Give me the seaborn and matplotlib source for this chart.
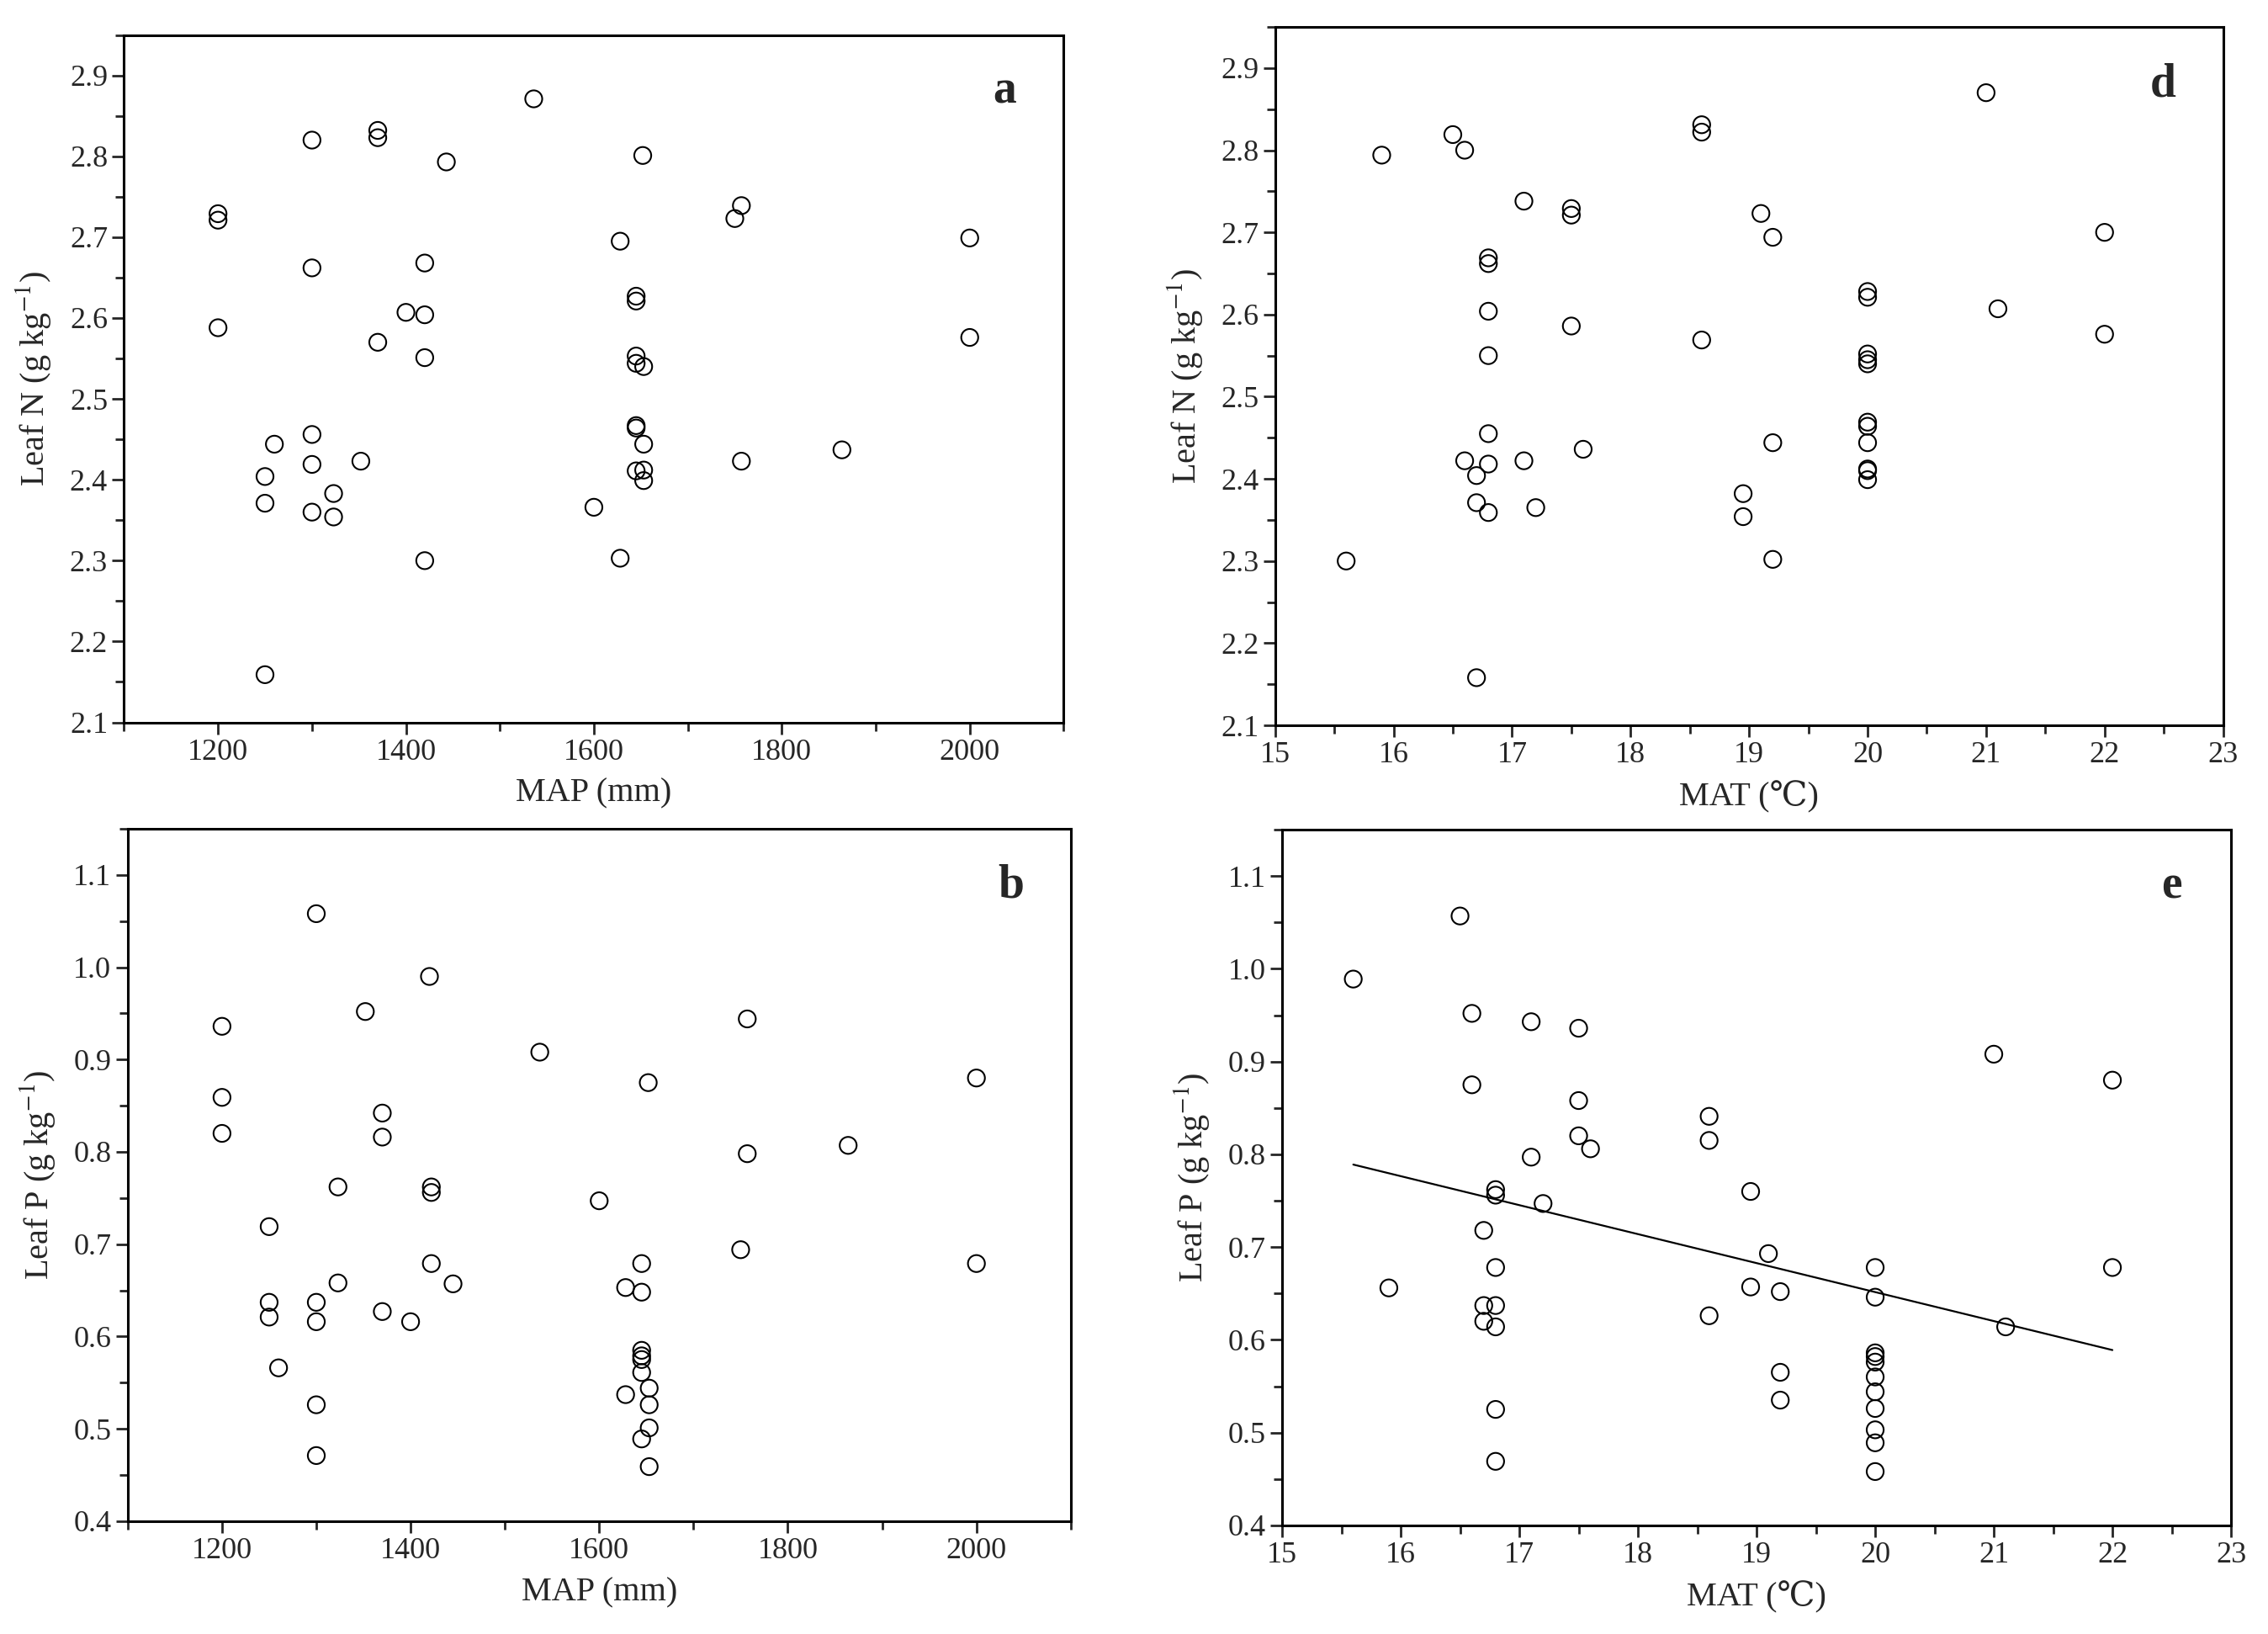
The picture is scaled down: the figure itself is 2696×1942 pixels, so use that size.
import matplotlib
matplotlib.use("Agg")
import matplotlib.pyplot as plt
from matplotlib.ticker import MultipleLocator
import seaborn as sns
import pandas as pd

# panel a: MAP vs leaf N
map_a = [1200, 1200, 1200, 1250, 1250, 1250, 1260, 1300, 1300, 1300, 1300, 1300,
         1323, 1323, 1352, 1370, 1370, 1370, 1400, 1420, 1420, 1420, 1420, 1443,
         1536, 1600, 1628, 1628, 1645, 1645, 1645, 1645, 1645, 1645, 1645, 1652,
         1653, 1653, 1653, 1653, 1750, 1757, 1757, 1864, 2000, 2000]
n_a = [2.729, 2.721, 2.588, 2.159, 2.404, 2.371, 2.444, 2.820, 2.662, 2.456, 2.419, 2.360,
       2.383, 2.354, 2.423, 2.832, 2.823, 2.570, 2.607, 2.668, 2.604, 2.551, 2.300, 2.793,
       2.871, 2.366, 2.695, 2.303, 2.627, 2.621, 2.553, 2.544, 2.467, 2.464, 2.411, 2.801,
       2.540, 2.444, 2.412, 2.399, 2.723, 2.739, 2.423, 2.437, 2.699, 2.576]

# panel d: MAT vs leaf N
mat_d = [15.6, 15.9, 16.5, 16.6, 16.6, 16.7, 16.7, 16.7,
         16.8, 16.8, 16.8, 16.8, 16.8, 16.8, 16.8,
         17.1, 17.1, 17.2, 17.5, 17.5, 17.5, 17.6,
         18.6, 18.6, 18.6, 18.95, 18.95, 19.1, 19.2, 19.2, 19.2,
         20, 20, 20, 20, 20, 20, 20, 20, 20, 20, 20,
         21.0, 21.1, 22, 22]
n_d = [2.300, 2.794, 2.819, 2.800, 2.422, 2.404, 2.371, 2.158,
       2.669, 2.662, 2.604, 2.550, 2.455, 2.418, 2.359,
       2.738, 2.422, 2.365, 2.729, 2.721, 2.586, 2.436,
       2.831, 2.822, 2.569, 2.382, 2.354, 2.723, 2.694, 2.444, 2.302,
       2.628, 2.621, 2.552, 2.545, 2.540, 2.469, 2.464, 2.444, 2.412, 2.410, 2.399,
       2.870, 2.607, 2.700, 2.576]

# panel b: MAP vs leaf P
map_b = [1200, 1200, 1200, 1250, 1250, 1250, 1260, 1300, 1300, 1300, 1300, 1300,
         1323, 1323, 1352, 1370, 1370, 1370, 1400, 1420, 1422, 1422, 1422, 1445,
         1537, 1600, 1628, 1628, 1645, 1645, 1645, 1645, 1645, 1645, 1645, 1652,
         1653, 1653, 1653, 1653, 1750, 1757, 1757, 1864, 2000, 2000]
p_b = [0.936, 0.859, 0.820, 0.719, 0.637, 0.621, 0.566, 1.058, 0.637, 0.616, 0.526, 0.471,
       0.762, 0.658, 0.952, 0.842, 0.816, 0.627, 0.616, 0.990, 0.762, 0.756, 0.679, 0.657,
       0.908, 0.747, 0.653, 0.537, 0.679, 0.648, 0.585, 0.579, 0.575, 0.561, 0.489, 0.875,
       0.544, 0.526, 0.501, 0.459, 0.694, 0.944, 0.798, 0.807, 0.880, 0.679]

# panel e: MAT vs leaf P
mat_e = mat_d
p_e = [0.989, 0.656, 1.057, 0.952, 0.875, 0.718, 0.637, 0.620,
       0.762, 0.756, 0.678, 0.637, 0.614, 0.525, 0.469,
       0.943, 0.797, 0.747, 0.936, 0.858, 0.820, 0.806,
       0.841, 0.815, 0.626, 0.760, 0.657, 0.693, 0.652, 0.565, 0.535,
       0.678, 0.646, 0.586, 0.582, 0.576, 0.560, 0.544, 0.526, 0.503, 0.489, 0.458,
       0.908, 0.614, 0.880, 0.678]

# fitted line in panel e
trend_x = [15.6, 22.0]
trend_y = [0.789, 0.589]

sns.set_style("ticks")
plt.rcParams['font.family'] = ['Liberation Serif', 'DejaVu Serif', 'Noto Sans CJK SC']
plt.rcParams['mathtext.fontset'] = 'stix'

fig = plt.figure(figsize=(26.96, 19.42), dpi=100)

panels = [
    # x, y, letter, xlabel, ylabel, xlim, ylim, x major step, x minor step, axes position
    (map_a, n_a, 'a', 'MAP (mm)', r'Leaf N (g kg$^{-1}$)', (1100, 2100), (2.1, 2.95), 200, 100,
     [0.0547, 0.5579, 0.4143, 0.4207]),
    (mat_d, n_d, 'd', 'MAT (\u2103)', r'Leaf N (g kg$^{-1}$)', (15, 23), (2.1, 2.95), 1, 0.5,
     [0.5622, 0.5561, 0.4180, 0.4274]),
    (map_b, p_b, 'b', 'MAP (mm)', r'Leaf P (g kg$^{-1}$)', (1100, 2100), (0.4, 1.15), 200, 100,
     [0.0563, 0.0691, 0.4158, 0.4237]),
    (mat_e, p_e, 'e', 'MAT (\u2103)', r'Leaf P (g kg$^{-1}$)', (15, 23), (0.4, 1.15), 1, 0.5,
     [0.5653, 0.0665, 0.4184, 0.4257]),
]

for xs, ys, letter, xlab, ylab, xlim, ylim, xmaj, xmin, pos in panels:
    ax = fig.add_axes(pos)
    df = pd.DataFrame({'x': xs, 'y': ys})
    sns.scatterplot(data=df, x='x', y='y', ax=ax, marker='o', s=210,
                    facecolor='none', edgecolor='black', linewidth=1.5)
    if letter == 'e':
        sns.lineplot(x=trend_x, y=trend_y, ax=ax, color='black', linewidth=1.6)
    ax.set_xlim(*xlim)
    ax.set_ylim(*ylim)
    ax.xaxis.set_major_locator(MultipleLocator(xmaj))
    ax.xaxis.set_minor_locator(MultipleLocator(xmin))
    ax.yaxis.set_major_locator(MultipleLocator(0.1))
    ax.yaxis.set_minor_locator(MultipleLocator(0.05))
    if xlim[0] == 1100:
        ax.set_xticks(range(1200, 2001, 200))
    ax.yaxis.set_major_formatter(matplotlib.ticker.FormatStrFormatter('%.1f'))
    ax.tick_params(axis='both', which='major', direction='out', length=10, width=2,
                   labelsize=26, pad=4)
    ax.tick_params(axis='both', which='minor', direction='out', length=7, width=2)
    for sp in ax.spines.values():
        sp.set_visible(True)
        sp.set_linewidth(2.2)
        sp.set_color('black')
    ax.set_xlabel(xlab, fontsize=29, labelpad=10)
    ax.set_ylabel(ylab, fontsize=29, labelpad=14)
    ax.text(0.937, 0.918, letter, transform=ax.transAxes, fontsize=40,
            fontweight='bold', ha='center', va='center')

fig.savefig('out.png', dpi=100)
